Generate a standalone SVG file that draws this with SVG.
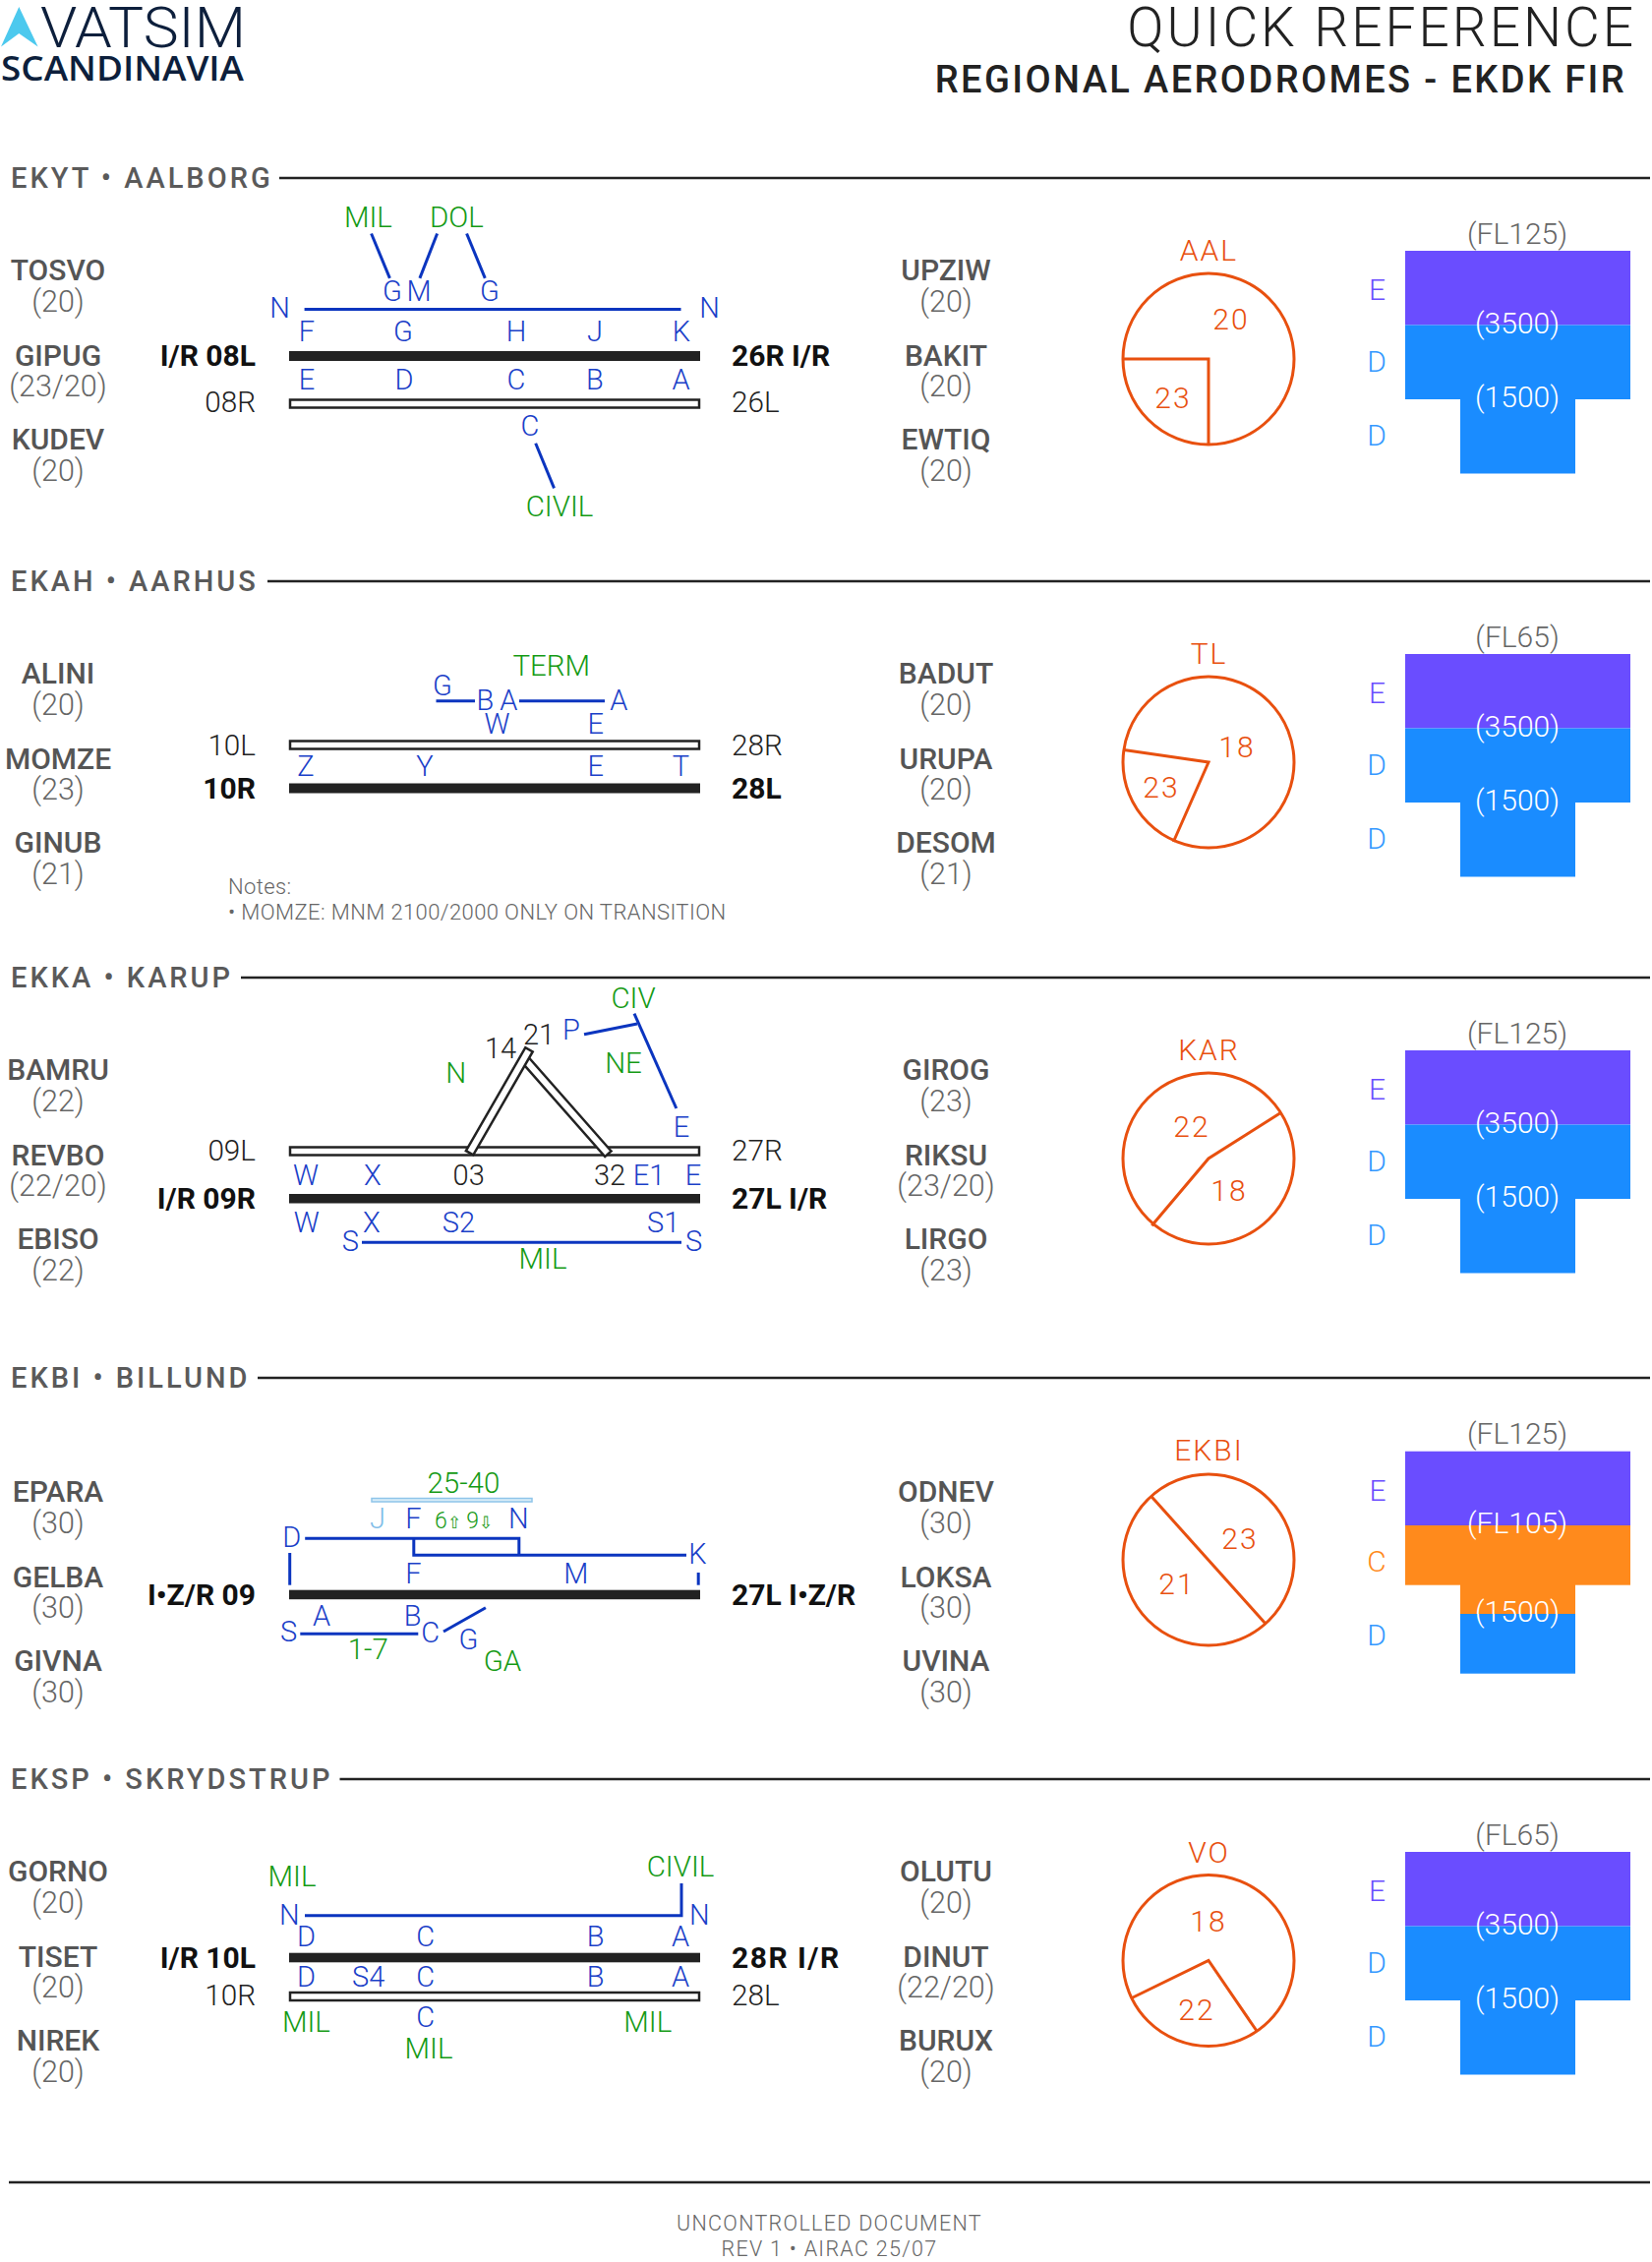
<svg xmlns="http://www.w3.org/2000/svg" width="1680" height="2300" viewBox="0 0 1680 2300">
<style>
text{font-family:Roboto,"Liberation Sans",sans-serif}
.h{font-size:29px;font-weight:500;fill:#5a5a5a;letter-spacing:3px}
.fx{font-size:30px;font-weight:500;fill:#555;text-anchor:middle}
.lv{font-size:30.5px;font-weight:300;fill:#666;text-anchor:middle}
.rb{font-size:30px;font-weight:700;fill:#111}
.rl{font-size:29.7px;font-weight:300;fill:#222}
.e{text-anchor:end}
.tx{font-size:29px;font-weight:300;fill:#1a40c8;text-anchor:middle}
.gr{font-size:29.5px;font-weight:300;fill:#159a15;text-anchor:middle}
.bk{font-size:29px;font-weight:300;fill:#222;text-anchor:middle}
.or{font-size:30px;font-weight:300;fill:#e8500f;text-anchor:middle;letter-spacing:2px}
.as{font-size:30px;font-weight:300;fill:#666;text-anchor:middle}
.asw{font-size:30px;font-weight:300;fill:#fff;text-anchor:middle}
.ae{font-size:30px;font-weight:300;fill:#6a4dff;text-anchor:middle}
.ad{font-size:30px;font-weight:300;fill:#3399ff;text-anchor:middle}
.ac{font-size:30px;font-weight:300;fill:#ff8a1c;text-anchor:middle}
.note{font-size:22px;font-weight:300;fill:#666;letter-spacing:.4px}
.foot{font-size:21.5px;font-weight:300;fill:#666;text-anchor:middle;letter-spacing:1.3px}
.hl{stroke:#222;stroke-width:2.5;fill:none}
.rwf{fill:#222}
.rwo{fill:#fff;stroke:#222;stroke-width:2.5}
.tl{stroke:#0b35bf;stroke-width:3;fill:none}
.ci{stroke:#e8500f;stroke-width:3;fill:none}
.pu{fill:#6a4dff}.bl{fill:#1a8cff}.og{fill:#ff8a1c}
</style>
<g id="header">
<path d="M1 47.5L19.3 7L38.6 47.5L19.3 34Z" fill="#4cc9ee"/>
<text x="41" y="48" font-size="58" font-weight="300" fill="#0d1f3c" textLength="209" lengthAdjust="spacingAndGlyphs">VATSIM</text>
<text x="1" y="82" style="font-family:'Open Sans',sans-serif" font-size="35" font-weight="600" fill="#0d1f3c" textLength="247" lengthAdjust="spacingAndGlyphs">SCANDINAVIA</text>
<text x="1664" y="47" font-size="55" font-weight="300" fill="#222" text-anchor="end" letter-spacing="3">QUICK REFERENCE</text>
<text x="1654" y="94" font-size="38" font-weight="500" fill="#222" text-anchor="end" letter-spacing="2.4">REGIONAL AERODROMES - EKDK FIR</text>
</g>

<g id="ekyt" transform="translate(0,181)">
<line class="hl" x1="284" y1="0" x2="1678" y2="0"/>
<text class="h" x="11" y="9.5">EKYT • AALBORG</text>
<text class="fx" x="59" y="103.6">TOSVO</text><text class="lv" x="59" y="135.5">(20)</text>
<text class="fx" x="59" y="190.5">GIPUG</text><text class="lv" x="59" y="222">(23/20)</text>
<text class="fx" x="59" y="275.5">KUDEV</text><text class="lv" x="59" y="307.5">(20)</text>
<text class="fx" x="962" y="103.6">UPZIW</text><text class="lv" x="962" y="135.5">(20)</text>
<text class="fx" x="962" y="190.5">BAKIT</text><text class="lv" x="962" y="222">(20)</text>
<text class="fx" x="962" y="275.5">EWTIQ</text><text class="lv" x="962" y="307.5">(20)</text>
<rect class="rwf" x="294" y="176" width="418" height="10"/>
<rect class="rwo" x="295" y="225.5" width="416" height="8"/>
<text class="rb e" x="260" y="191">I/R 08L</text><text class="rl e" x="260" y="237.5">08R</text>
<text class="rb" x="744" y="191">26R I/R</text><text class="rl" x="744" y="237.5">26L</text>
<g class="tl"><line x1="309.6" y1="133.6" x2="692.5" y2="133.6"/><line x1="377.6" y1="56.5" x2="396.4" y2="101.9"/><line x1="444.6" y1="56.5" x2="426.9" y2="101.9"/><line x1="474.6" y1="56.5" x2="493.3" y2="101.9"/><line x1="544.7" y1="269.7" x2="563.5" y2="315.4"/></g>
<text class="gr" x="374.4" y="50.4">MIL</text><text class="gr" x="464.4" y="50.4">DOL</text>
<text class="tx" x="399" y="125.4">G</text><text class="tx" x="426" y="125.4">M</text><text class="tx" x="498" y="125.4">G</text>
<text class="tx" x="284.5" y="142">N</text><text class="tx" x="721.5" y="142">N</text>
<text class="tx" x="312" y="166">F</text><text class="tx" x="410" y="166">G</text><text class="tx" x="525" y="166">H</text><text class="tx" x="605" y="166">J</text><text class="tx" x="693" y="166">K</text>
<text class="tx" x="312" y="215.4">E</text><text class="tx" x="411" y="215.4">D</text><text class="tx" x="525" y="215.4">C</text><text class="tx" x="605" y="215.4">B</text><text class="tx" x="692.5" y="215.4">A</text>
<text class="tx" x="539" y="262">C</text><text class="gr" x="569" y="344">CIVIL</text>
<text class="or" x="1229.5" y="84">AAL</text>
<circle class="ci" cx="1229" cy="184" r="87"/>
<path class="ci" d="M1142 184H1229V271"/>
<text class="or" x="1252" y="154">20</text><text class="or" x="1193" y="234">23</text>
<rect class="pu" x="1429" y="74" width="229" height="75.5"/>
<rect class="bl" x="1429" y="149.5" width="229" height="75.5"/>
<rect class="bl" x="1485" y="225" width="117" height="75.5"/>
<text class="as" x="1543" y="66.5">(FL125)</text><text class="asw" x="1543" y="157.6">(3500)</text><text class="asw" x="1543" y="232.6">(1500)</text>
<text class="ae" x="1400.5" y="123.6">E</text><text class="ad" x="1400" y="196.5">D</text><text class="ad" x="1400" y="271.5">D</text>
</g>

<g id="ekah" transform="translate(0,591)">
<line class="hl" x1="272" y1="0" x2="1678" y2="0"/>
<text class="h" x="11" y="9.5">EKAH • AARHUS</text>
<text class="fx" x="59" y="103.6">ALINI</text><text class="lv" x="59" y="135.5">(20)</text>
<text class="fx" x="59" y="190.5">MOMZE</text><text class="lv" x="59" y="222">(23)</text>
<text class="fx" x="59" y="275.5">GINUB</text><text class="lv" x="59" y="307.5">(21)</text>
<text class="fx" x="962" y="103.6">BADUT</text><text class="lv" x="962" y="135.5">(20)</text>
<text class="fx" x="962" y="190.5">URUPA</text><text class="lv" x="962" y="222">(20)</text>
<text class="fx" x="962" y="275.5">DESOM</text><text class="lv" x="962" y="307.5">(21)</text>
<rect class="rwo" x="295" y="162.5" width="416" height="8"/>
<rect class="rwf" x="294" y="205.5" width="418" height="10"/>
<text class="rl e" x="260" y="176.7">10L</text><text class="rb e" x="260" y="221.3">10R</text>
<text class="rl" x="744" y="176.7">28R</text><text class="rb" x="744" y="221.3">28L</text>
<g class="tl"><line x1="443.5" y1="121.7" x2="483" y2="121.7"/><line x1="528" y1="121.7" x2="615" y2="121.7"/></g>
<text class="gr" x="560.8" y="96.3">TERM</text>
<text class="tx" x="450" y="115.7">G</text><text class="tx" x="493.3" y="130.7">B</text><text class="tx" x="517.4" y="130.7">A</text><text class="tx" x="629.4" y="130.7">A</text>
<text class="tx" x="505.6" y="154.7">W</text><text class="tx" x="605.8" y="154.7">E</text>
<text class="tx" x="311" y="198.3">Z</text><text class="tx" x="432" y="198.3">Y</text><text class="tx" x="605.8" y="198.3">E</text><text class="tx" x="692.5" y="198.3">T</text>
<text class="note" x="232" y="318">Notes:</text>
<text class="note" x="232" y="344">• MOMZE: MNM 2100/2000 ONLY ON TRANSITION</text>
<text class="or" x="1229.5" y="84">TL</text>
<circle class="ci" cx="1229" cy="184" r="87"/>
<path class="ci" d="M1143 171.5L1229 184L1193.3 265"/>
<text class="or" x="1258" y="179">18</text><text class="or" x="1181" y="220">23</text>
<rect class="pu" x="1429" y="74" width="229" height="75.5"/>
<rect class="bl" x="1429" y="149.5" width="229" height="75.5"/>
<rect class="bl" x="1485" y="225" width="117" height="75.5"/>
<text class="as" x="1543" y="66.5">(FL65)</text><text class="asw" x="1543" y="157.6">(3500)</text><text class="asw" x="1543" y="232.6">(1500)</text>
<text class="ae" x="1400.5" y="123.6">E</text><text class="ad" x="1400" y="196.5">D</text><text class="ad" x="1400" y="271.5">D</text>
</g>

<g id="ekka" transform="translate(0,994)">
<line class="hl" x1="245" y1="0" x2="1678" y2="0"/>
<text class="h" x="11" y="9.5">EKKA • KARUP</text>
<text class="fx" x="59" y="103.6">BAMRU</text><text class="lv" x="59" y="135.5">(22)</text>
<text class="fx" x="59" y="190.5">REVBO</text><text class="lv" x="59" y="222">(22/20)</text>
<text class="fx" x="59" y="275.5">EBISO</text><text class="lv" x="59" y="307.5">(22)</text>
<text class="fx" x="962" y="103.6">GIROG</text><text class="lv" x="962" y="135.5">(23)</text>
<text class="fx" x="962" y="190.5">RIKSU</text><text class="lv" x="962" y="222">(23/20)</text>
<text class="fx" x="962" y="275.5">LIRGO</text><text class="lv" x="962" y="307.5">(23)</text>
<rect class="rwo" x="295" y="172.5" width="416" height="8"/>
<g fill="#fff" stroke="#222" stroke-width="2.5">
<path d="M621.6 176.5L537.9 81.5L531.5 87.1L615.2 182.1Z"/>
<path d="M473.9 176.2L534.3 71.2L541.7 75.4L481.3 180.4Z"/>
</g>
<rect class="rwf" x="294" y="220" width="418" height="9.5"/>
<text class="rl e" x="260" y="186">09L</text><text class="rb e" x="260" y="234.7">I/R 09R</text>
<text class="rl" x="744" y="186">27R</text><text class="rb" x="744" y="234.7">27L I/R</text>
<g class="tl"><line x1="645" y1="36.7" x2="687.8" y2="133"/><line x1="594" y1="57.7" x2="648" y2="47"/><line x1="368" y1="269.3" x2="693" y2="269.3"/></g>
<text class="gr" x="644" y="31">CIV</text><text class="gr" x="463.7" y="106.7">N</text><text class="gr" x="634" y="96.7">NE</text><text class="gr" x="552" y="296">MIL</text>
<text class="bk" x="509" y="82">14</text><text class="bk" x="548" y="67.7">21</text><text class="tx" x="581" y="62.7">P</text><text class="tx" x="693" y="162">E</text>
<text class="tx" x="311" y="211">W</text><text class="tx" x="378.8" y="211">X</text><text class="bk" x="476.7" y="211">03</text><text class="bk" x="620" y="211">32</text><text class="tx" x="660" y="211">E1</text><text class="tx" x="705" y="211">E</text>
<text class="tx" x="311.8" y="259">W</text><text class="tx" x="378" y="259">X</text><text class="tx" x="466.5" y="259">S2</text><text class="tx" x="674.7" y="259">S1</text>
<text class="tx" x="356.3" y="278">S</text><text class="tx" x="705.7" y="278">S</text>
<text class="or" x="1229.5" y="84">KAR</text>
<circle class="ci" cx="1229" cy="184" r="87"/>
<path class="ci" d="M1301.6 138L1229 184L1171.3 252.3"/>
<text class="or" x="1212" y="162">22</text><text class="or" x="1250" y="227">18</text>
<rect class="pu" x="1429" y="74" width="229" height="75.5"/>
<rect class="bl" x="1429" y="149.5" width="229" height="75.5"/>
<rect class="bl" x="1485" y="225" width="117" height="75.5"/>
<text class="as" x="1543" y="66.5">(FL125)</text><text class="asw" x="1543" y="157.6">(3500)</text><text class="asw" x="1543" y="232.6">(1500)</text>
<text class="ae" x="1400.5" y="123.6">E</text><text class="ad" x="1400" y="196.5">D</text><text class="ad" x="1400" y="271.5">D</text>
</g>

<g id="ekbi" transform="translate(0,1401)">
<line class="hl" x1="262" y1="0" x2="1678" y2="0"/>
<text class="h" x="11" y="9.5">EKBI • BILLUND</text>
<text class="fx" x="59" y="125.6">EPARA</text><text class="lv" x="59" y="157.5">(30)</text>
<text class="fx" x="59" y="212.5">GELBA</text><text class="lv" x="59" y="244">(30)</text>
<text class="fx" x="59" y="297.5">GIVNA</text><text class="lv" x="59" y="329.5">(30)</text>
<text class="fx" x="962" y="125.6">ODNEV</text><text class="lv" x="962" y="157.5">(30)</text>
<text class="fx" x="962" y="212.5">LOKSA</text><text class="lv" x="962" y="244">(30)</text>
<text class="fx" x="962" y="297.5">UVINA</text><text class="lv" x="962" y="329.5">(30)</text>
<rect class="rwf" x="294" y="215.7" width="418" height="9.5"/>
<text class="rb e" x="260" y="230.7">I•Z/R 09</text><text class="rb" x="744" y="230.7">27L I•Z/R</text>
<rect x="378" y="122.5" width="163" height="3.5" fill="#d8ecf8" stroke="#8fc5ea" stroke-width="1.5"/>
<g class="tl"><path d="M310.2 163.3H527.8V180.3"/><path d="M420.8 163.3V180.3H698"/><line x1="294.7" y1="178" x2="294.7" y2="210.7"/><line x1="710.2" y1="198" x2="710.2" y2="210.7"/><line x1="305.3" y1="260.3" x2="425.3" y2="260.3"/><line x1="451" y1="258" x2="493.9" y2="233.7"/></g>
<text class="gr" x="471.4" y="116.7">25-40</text>
<text class="tx" x="384" y="153" style="fill:#7fbde8">J</text><text class="tx" x="420.4" y="153">F</text><text class="tx" x="527.3" y="153">N</text>
<text x="442" y="153" font-size="23" font-weight="300" fill="#159a15">6<tspan font-size="17" style="font-family:'DejaVu Sans',sans-serif">⇧</tspan> 9<tspan font-size="17" style="font-family:'DejaVu Sans',sans-serif">⇩</tspan></text>
<text class="tx" x="296.7" y="172.3">D</text><text class="tx" x="709.4" y="189">K</text>
<text class="tx" x="420.4" y="209">F</text><text class="tx" x="585.7" y="209">M</text>
<text class="tx" x="293.5" y="268.3">S</text><text class="tx" x="327" y="252.3">A</text><text class="tx" x="419.6" y="252.3">B</text><text class="tx" x="437.6" y="269">C</text><text class="tx" x="476.3" y="275.7">G</text>
<text class="gr" x="511" y="298.3">GA</text><text class="gr" x="374.3" y="286.3">1-7</text>
<text class="or" x="1229.5" y="84">EKBI</text>
<circle class="ci" cx="1229" cy="185" r="87"/>
<line class="ci" x1="1171" y1="120.7" x2="1286.8" y2="249.7"/>
<text class="or" x="1261" y="174">23</text><text class="or" x="1197" y="220">21</text>
<rect class="pu" x="1429" y="74.7" width="229" height="75.3"/>
<rect class="og" x="1429" y="150" width="229" height="60.7"/>
<rect class="og" x="1485" y="210" width="117" height="30"/>
<rect class="bl" x="1485" y="240" width="117" height="60.7"/>
<text class="as" x="1543" y="66.7">(FL125)</text><text class="asw" x="1543" y="158">(FL105)</text><text class="asw" x="1543" y="248">(1500)</text>
<text class="ae" x="1401" y="124.7">E</text><text class="ac" x="1400" y="197">C</text><text class="ad" x="1400" y="272.3">D</text>
</g>

<g id="eksp" transform="translate(0,1809)">
<line class="hl" x1="345.5" y1="0" x2="1678" y2="0"/>
<text class="h" x="11" y="9.5">EKSP • SKRYDSTRUP</text>
<text class="fx" x="59" y="103.6">GORNO</text><text class="lv" x="59" y="135.5">(20)</text>
<text class="fx" x="59" y="190.5">TISET</text><text class="lv" x="59" y="222">(20)</text>
<text class="fx" x="59" y="275.5">NIREK</text><text class="lv" x="59" y="307.5">(20)</text>
<text class="fx" x="962" y="103.6">OLUTU</text><text class="lv" x="962" y="135.5">(20)</text>
<text class="fx" x="962" y="190.5">DINUT</text><text class="lv" x="962" y="222">(22/20)</text>
<text class="fx" x="962" y="275.5">BURUX</text><text class="lv" x="962" y="307.5">(20)</text>
<rect class="rwf" x="294" y="176.7" width="418" height="9.6"/>
<rect class="rwo" x="295" y="217" width="416" height="8"/>
<text class="rb e" x="260" y="191.7">I/R 10L</text><text class="rl e" x="260" y="230.3">10R</text>
<text class="rb" x="744" y="191.7" letter-spacing="1.5">28R I/R</text><text class="rl" x="744" y="230.3">28L</text>
<path class="tl" d="M310 138.7H693V106"/>
<text class="gr" x="297" y="109.3">MIL</text><text class="gr" x="692" y="99.3">CIVIL</text>
<text class="tx" x="294.3" y="147.7">N</text><text class="tx" x="711.4" y="147.7">N</text>
<text class="tx" x="311.4" y="170">D</text><text class="tx" x="432.7" y="170">C</text><text class="tx" x="605.7" y="170">B</text><text class="tx" x="692" y="170">A</text>
<text class="tx" x="311.4" y="211.3">D</text><text class="tx" x="374.7" y="211.3">S4</text><text class="tx" x="432.7" y="211.3">C</text><text class="tx" x="605.7" y="211.3">B</text><text class="tx" x="692" y="211.3">A</text>
<text class="gr" x="311.4" y="257">MIL</text><text class="tx" x="432.7" y="252.3">C</text><text class="gr" x="436" y="283.7">MIL</text><text class="gr" x="658.8" y="257">MIL</text>
<text class="or" x="1229.5" y="84.5">VO</text>
<circle class="ci" cx="1229" cy="184.5" r="87"/>
<path class="ci" d="M1150 223L1229 184.5L1278 256"/>
<text class="or" x="1229" y="155">18</text><text class="or" x="1217" y="245">22</text>
<rect class="pu" x="1429" y="74" width="229" height="75.5"/>
<rect class="bl" x="1429" y="149.5" width="229" height="75.5"/>
<rect class="bl" x="1485" y="225" width="117" height="75.5"/>
<text class="as" x="1543" y="66.5">(FL65)</text><text class="asw" x="1543" y="157.6">(3500)</text><text class="asw" x="1543" y="232.6">(1500)</text>
<text class="ae" x="1400.5" y="123.6">E</text><text class="ad" x="1400" y="196.5">D</text><text class="ad" x="1400" y="271.5">D</text>
</g>

<g id="footer">
<line class="hl" x1="9" y1="2219" x2="1678" y2="2219"/>
<text class="foot" x="843.5" y="2267.5">UNCONTROLLED DOCUMENT</text>
<text class="foot" x="843.5" y="2294">REV 1 • AIRAC 25/07</text>
</g>
</svg>
